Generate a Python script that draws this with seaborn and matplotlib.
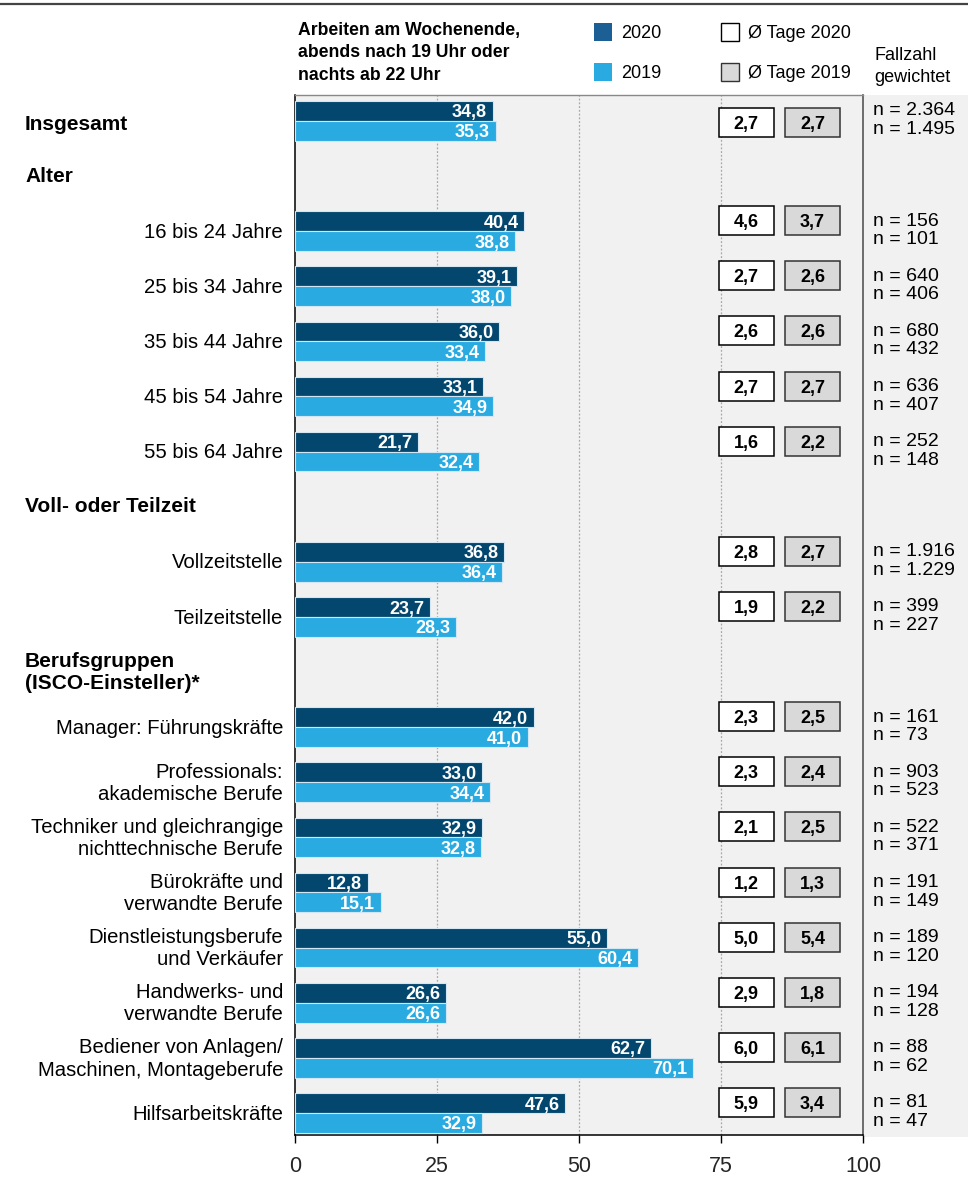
import numpy as np
import pandas as pd
import matplotlib
matplotlib.use("Agg")
import matplotlib.pyplot as plt
from matplotlib.patches import Rectangle
from matplotlib.lines import Line2D
import seaborn as sns

# ---------------------------------------------------------------- data
slots = [
    "Insgesamt",
    "Alter",
    "16 bis 24 Jahre",
    "25 bis 34 Jahre",
    "35 bis 44 Jahre",
    "45 bis 54 Jahre",
    "55 bis 64 Jahre",
    "Voll- oder Teilzeit",
    "Vollzeitstelle",
    "Teilzeitstelle",
    "Berufsgruppen\n(ISCO-Einsteller)*",
    "Manager: Führungskräfte",
    "Professionals:\nakademische Berufe",
    "Techniker und gleichrangige\nnichttechnische Berufe",
    "Bürokräfte und\nverwandte Berufe",
    "Dienstleistungsberufe\nund Verkäufer",
    "Handwerks- und\nverwandte Berufe",
    "Bediener von Anlagen/\nMaschinen, Montageberufe",
    "Hilfsarbeitskräfte",
]
headers = ["Insgesamt", "Alter", "Voll- oder Teilzeit", "Berufsgruppen\n(ISCO-Einsteller)*"]

groups = [
    "Insgesamt",
    "16 bis 24 Jahre", "25 bis 34 Jahre", "35 bis 44 Jahre", "45 bis 54 Jahre", "55 bis 64 Jahre",
    "Vollzeitstelle", "Teilzeitstelle",
    "Manager: Führungskräfte",
    "Professionals:\nakademische Berufe",
    "Techniker und gleichrangige\nnichttechnische Berufe",
    "Bürokräfte und\nverwandte Berufe",
    "Dienstleistungsberufe\nund Verkäufer",
    "Handwerks- und\nverwandte Berufe",
    "Bediener von Anlagen/\nMaschinen, Montageberufe",
    "Hilfsarbeitskräfte",
]
share_2020 = [34.8, 40.4, 39.1, 36.0, 33.1, 21.7, 36.8, 23.7, 42.0, 33.0, 32.9, 12.8, 55.0, 26.6, 62.7, 47.6]
share_2019 = [35.3, 38.8, 38.0, 33.4, 34.9, 32.4, 36.4, 28.3, 41.0, 34.4, 32.8, 15.1, 60.4, 26.6, 70.1, 32.9]
days_2020 = [2.7, 4.6, 2.7, 2.6, 2.7, 1.6, 2.8, 1.9, 2.3, 2.3, 2.1, 1.2, 5.0, 2.9, 6.0, 5.9]
days_2019 = [2.7, 3.7, 2.6, 2.6, 2.7, 2.2, 2.7, 2.2, 2.5, 2.4, 2.5, 1.3, 5.4, 1.8, 6.1, 3.4]
n_2020 = ["2.364", "156", "640", "680", "636", "252", "1.916", "399", "161", "903", "522", "191", "189", "194", "88", "81"]
n_2019 = ["1.495", "101", "406", "432", "407", "148", "1.229", "227", "73", "523", "371", "149", "120", "128", "62", "47"]

years = ["2020", "2019"]
x_ticks = [0, 25, 50, 75, 100]

# ---------------------------------------------------------------- style
W, H = 968, 1178
DARK = "#03476f"
DARK_KEY = "#1b5f95"
LIGHT = "#29abe2"
PANEL = "#f1f1f1"
BOXGREY = "#d9d9d9"

sns.set_theme(style="white")
plt.rcParams["font.family"] = ["Liberation Sans", "DejaVu Sans"]
plt.rcParams["text.color"] = "black"


def fx(px):
    return px / W


def fy(py):
    return 1 - py / H


fig = plt.figure(figsize=(W / 100, H / 100), dpi=100)
fig.patch.set_facecolor("white")

ax_left, ax_right, ax_top, ax_bottom = 295, 863, 95, 1135
ax = fig.add_axes([fx(ax_left), fy(ax_bottom), fx(ax_right - ax_left), (ax_bottom - ax_top) / H])
ax.set_facecolor(PANEL)

# right-hand panel holding the case numbers
fig.add_artist(Rectangle((fx(ax_right), fy(1137)), fx(W - ax_right), (1137 - ax_top) / H,
                         transform=fig.transFigure, facecolor=PANEL, edgecolor="none", zorder=0))

# rule across the top of the figure
fig.add_artist(Line2D([0, 1], [fy(4), fy(4)], transform=fig.transFigure, color="#444444", lw=1.6))

# ---------------------------------------------------------------- bars
df = pd.DataFrame({
    "Gruppe": groups * 2,
    "Anteil": share_2020 + share_2019,
    "Jahr": [years[0]] * len(groups) + [years[1]] * len(groups),
})

sns.barplot(data=df, y="Gruppe", x="Anteil", hue="Jahr", order=slots, hue_order=years,
            palette=[DARK, LIGHT], saturation=1, orient="h", width=0.72, gap=0, errorbar=None,
            edgecolor="#d3e6f2", linewidth=0.8, legend=False, ax=ax, zorder=3)

ax.set_xlim(0, 100)
ax.set_ylim(18.4, -0.47)

# value labels inside the bar ends
for patch in list(ax.patches):
    w = patch.get_width()
    if not np.isfinite(w) or w <= 0:
        continue
    yc = patch.get_y() + patch.get_height() / 2
    ax.annotate(f"{w:.1f}".replace(".", ","), xy=(w, yc), xytext=(-4, 0),
                textcoords="offset points", ha="right", va="center_baseline",
                color="white", fontweight="bold", fontsize=13, zorder=5)

# ---------------------------------------------------------------- grid, spines, ticks
for v in x_ticks[1:-1]:
    ax.axvline(v, color="#a8a8a8", lw=0.9, ls=(0, (1.5, 1.5)), zorder=1)

ax.set_xticks(x_ticks)
ax.set_xticklabels([str(t) for t in x_ticks], fontsize=15.5)
ax.set_yticks([])
ax.set_xlabel("")
ax.set_ylabel("")
ax.tick_params(axis="x", bottom=True, length=6, width=1, color="black", pad=9)
for side in ["left", "bottom"]:
    ax.spines[side].set_color("black")
    ax.spines[side].set_linewidth(1.1)
ax.spines["right"].set_color("#555555")
ax.spines["right"].set_linewidth(1.2)
ax.spines["top"].set_color("#888888")
ax.spines["top"].set_linewidth(1.0)

# ---------------------------------------------------------------- row labels
slot_pos = {name: i for i, name in enumerate(slots)}
px_per_unit = (ax_right - ax_left) / 100
slot_h = (ax_bottom - ax_top) / (18.4 + 0.47)
lab_x = (283 - ax_left) / px_per_unit
head_x = (25 - ax_left) / px_per_unit
for name, i in slot_pos.items():
    if name in headers:
        ax.text(head_x, i + (0.06 if i == 0 else 0), name, ha="left", va="center",
                fontsize=15, fontweight="bold", linespacing=1.2, clip_on=False)
    else:
        ax.text(lab_x, i + 0.02, name, ha="right", va="center", fontsize=14.6,
                linespacing=1.22, clip_on=False)

# ---------------------------------------------------------------- day boxes and case numbers
box_w = 55 / px_per_unit
box_h = 29 / slot_h
box_cx = [(746 - ax_left) / px_per_unit, (812.5 - ax_left) / px_per_unit]
n_x = (873 - ax_left) / px_per_unit
for k, g in enumerate(groups):
    yc = slot_pos[g]
    yb = yc + (0.03 if k == 0 else -0.19)
    for cx, val, fc, ec in [(box_cx[0], days_2020[k], "white", "black"),
                            (box_cx[1], days_2019[k], BOXGREY, "#333333")]:
        ax.add_patch(Rectangle((cx - box_w / 2, yb - box_h / 2), box_w, box_h,
                               facecolor=fc, edgecolor=ec, lw=1.1, zorder=4))
        ax.text(cx, yb, f"{val:.1f}".replace(".", ","), ha="center", va="center_baseline",
                fontsize=13, fontweight="bold", zorder=5)
    ax.text(n_x, yc - 0.05 - 0.17, f"n = {n_2020[k]}", ha="left", va="center_baseline",
            fontsize=14, clip_on=False)
    ax.text(n_x, yc - 0.05 + 0.17, f"n = {n_2019[k]}", ha="left", va="center_baseline",
            fontsize=14, clip_on=False)

# ---------------------------------------------------------------- heading and key
fig.text(fx(298), fy(22), "Arbeiten am Wochenende,\nabends nach 19 Uhr oder\nnachts ab 22 Uhr",
         ha="left", va="top", fontsize=12.7, fontweight="bold", linespacing=1.42)

sq = 18
keys = [
    (594, 23, DARK_KEY, "none", years[0]),
    (594, 63, LIGHT, "none", years[1]),
    (721, 23, "white", "black", "Ø Tage 2020"),
    (721, 63, BOXGREY, "#333333", "Ø Tage 2019"),
]
for kx, ky, fc, ec, label in keys:
    fig.add_artist(Rectangle((fx(kx), fy(ky + sq)), sq / W, sq / H, transform=fig.transFigure,
                             facecolor=fc, edgecolor=ec, lw=1.0))
    fig.text(fx(kx + 27), fy(ky + sq / 2), label, ha="left", va="center_baseline", fontsize=13)

fig.text(fx(874), fy(53), "Fallzahl", ha="left", va="center_baseline", fontsize=13)
fig.text(fx(874), fy(76), "gewichtet", ha="left", va="center_baseline", fontsize=13)

fig.savefig("out.png", dpi=100, facecolor="white")
